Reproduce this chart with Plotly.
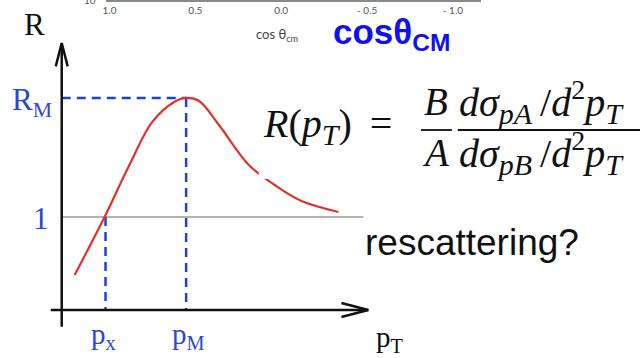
import plotly.graph_objects as go

# ---- data (schematic R(pT) curve, in pT / R units) ----
pt_vals = [0.52, 1.72, 2.72, 3.64, 4.52, 5.0, 5.52, 6.32, 7.52, 8.56, 9.64, 11.12]
r_vals = [0.376, 1.0, 1.559, 2.022, 2.237, 2.28, 2.247, 1.989, 1.559, 1.344, 1.172, 1.054]
p_x = 1.76
p_M = 5.0
R_M = 2.28
R_one = 1.0
cos_ticks = [1.0, 0.5, 0.0, -0.5, -1.0]
cos_ticklabels = ["1.0", "0.5", "0.0", "- 0.5", "- 1.0"]

W, H = 640, 358
X_RANGE = [-2.36, 23.24]
Y_RANGE = [-0.516, 3.333]

def px(xp):
    return xp / W

def py(yp):
    return 1 - yp / H

RED = "#e0322b"
BLUE = "#1f3fe0"
LBLUE = "#2b45d6"

fig = go.Figure()

# grey R = 1 line
fig.add_trace(go.Scatter(x=[0, 12.12], y=[R_one, R_one], mode="lines",
                         line=dict(color="#9a9a9a", width=1.5), hoverinfo="skip"))

# dashed guide lines
fig.add_trace(go.Scatter(x=[0, p_M, None, p_M, p_M, None, p_x, p_x],
                         y=[R_M, R_M, None, R_M, 0, None, R_one, 0],
                         mode="lines", line=dict(color=BLUE, width=2.5, dash="9px,6px"),
                         hoverinfo="skip"))

# axes with open arrow heads
fig.add_trace(go.Scatter(
    x=[0, 0, None, -0.24, 0, 0.24, None, -0.44, 12.32, None, 11.24, 12.32, 11.24],
    y=[-0.18, 2.87, None, 2.62, 2.87, 2.62, None, 0, 0, None, 0.075, 0, -0.075],
    mode="lines", line=dict(color="#111111", width=2.5), hoverinfo="skip"))

# the R(pT) curve
fig.add_trace(go.Scatter(x=pt_vals, y=r_vals, mode="lines",
                         line=dict(color=RED, width=2.2, shape="spline", smoothing=1.0),
                         hoverinfo="skip"))

# top (cropped) cos theta axis
fig.add_trace(go.Scatter(x=[0], y=[0], xaxis="x2", yaxis="y", mode="markers",
                         marker=dict(opacity=0), hoverinfo="skip"))

serif = "Liberation Serif, Times New Roman, serif"
ann = []

def txt(text, x, y, size, color="#111", family=serif, xanchor="center", yanchor="middle"):
    ann.append(dict(text=text, x=px(x), y=py(y), xref="paper", yref="paper",
                    showarrow=False, xanchor=xanchor, yanchor=yanchor,
                    font=dict(size=size, color=color, family=family)))

def sub(s, size=30):
    return "<sub><span style='font-size:%dpx'><i>%s</i></span></sub>" % (size, s)

th = "\u2009"

txt("R", 32, 24, 31)
txt("R<sub>M</sub>", 29, 102, 31, LBLUE)
txt("1", 38, 218, 31, LBLUE)
txt("p<sub>x</sub>", 101, 336, 29, LBLUE)
txt("p<sub>M</sub>", 186, 336, 29, LBLUE)
txt("p<sub>T</sub>", 389, 339, 29)

# formula
txt("<i>R</i>(<i>p</i>" + sub("T") + ")" + th + " = ", 259, 126, 40, xanchor="left")
txt("<i>B</i>", 435, 101, 39)
txt("<i>A</i>", 435, 152, 39)
txt("<i>dσ</i>" + sub("pA") + th + "/<i>d</i><sup>2</sup><i>p</i>" + sub("T"),
    456, 102, 40, xanchor="left")
txt("<i>dσ</i>" + sub("pB") + th + "/<i>d</i><sup>2</sup><i>p</i>" + sub("T"),
    456, 153, 40, xanchor="left")

txt("rescattering?", 362, 242, 37, "#111", "Liberation Sans, Arial, sans-serif", xanchor="left")
txt("<b>cosθ<sub>CM</sub></b>", 330, 34, 35, "#1010f0", "Liberation Sans, Arial, sans-serif", xanchor="left")
txt("cos θ<sub>cm</sub>", 252, 35, 13, "#444", "Lato, Open Sans, sans-serif", xanchor="left")
txt("10", 87, 0, 10, "#555", "Lato, Open Sans, sans-serif")

shapes = [
    dict(type="line", xref="paper", yref="paper", x0=px(420), x1=px(451), y0=py(130), y1=py(130),
         line=dict(color="#111", width=1.8)),
    dict(type="line", xref="paper", yref="paper", x0=px(457), x1=px(641), y0=py(130), y1=py(130),
         line=dict(color="#111", width=1.8)),
    # small white scan artefact over the curve
    dict(type="rect", xref="paper", yref="paper", x0=px(257), x1=px(266), y0=py(179), y1=py(172),
         line=dict(width=0), fillcolor="white", layer="above"),
]

fig.update_layout(
    width=W, height=H, margin=dict(l=0, r=0, t=0, b=0),
    paper_bgcolor="white", plot_bgcolor="rgba(0,0,0,0)", showlegend=False,
    xaxis=dict(range=X_RANGE, visible=False, domain=[0, 1]),
    yaxis=dict(range=Y_RANGE, visible=False, domain=[0, 1]),
    xaxis2=dict(range=[1.023, -1.162], domain=[px(103), px(480)], anchor="free",
                position=py(1), side="bottom",
                tickvals=cos_ticks, ticktext=cos_ticklabels, ticks="",
                showline=True, linecolor="#8a8a8a", linewidth=1.5, showgrid=False,
                zeroline=False, tickfont=dict(size=10, color="#555", family="Lato, Open Sans, sans-serif")),
    annotations=ann, shapes=shapes,
)

fig.write_html("out.html")
